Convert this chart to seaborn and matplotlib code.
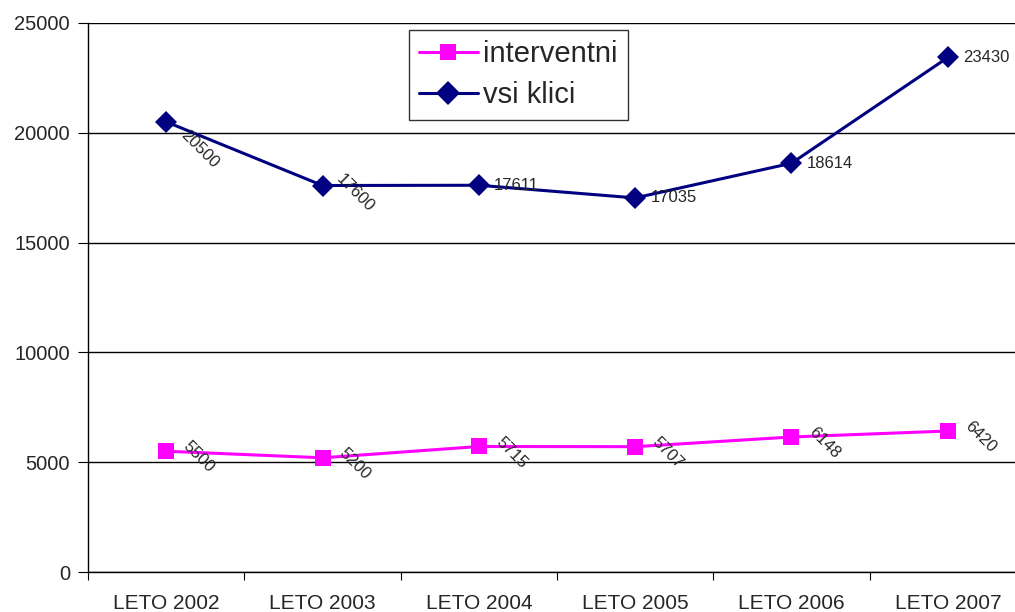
import matplotlib
matplotlib.use('Agg')
import matplotlib.pyplot as plt
import seaborn as sns
import pandas as pd

# ── data ──────────────────────────────────────────────────────────────────
YEARS        = ['LETO 2002', 'LETO 2003', 'LETO 2004', 'LETO 2005', 'LETO 2006', 'LETO 2007']
INTERVENTNI  = [5500, 5200, 5715, 5707, 6148, 6420]
VSI_KLICI    = [20500, 17600, 17611, 17035, 18614, 23430]
ROTATE_VSI   = [True, True, False, False, False, False]

df = pd.DataFrame({
    'leto': YEARS * 2,
    'klici': INTERVENTNI + VSI_KLICI,
    'serija': ['interventni'] * len(YEARS) + ['vsi klici'] * len(YEARS),
})

sns.set_style('white')
plt.rcParams['font.family'] = ['Liberation Sans', 'DejaVu Sans']

fig = plt.figure(figsize=(10.15, 6.12), dpi=100)
ax = fig.add_axes([88 / 1015, 1 - 572 / 612, 938 / 1015, 549 / 612])

sns.lineplot(
    data=df, x='leto', y='klici', hue='serija', style='serija',
    palette={'interventni': '#FF00FF', 'vsi klici': '#000080'},
    markers={'interventni': 's', 'vsi klici': 'D'},
    dashes=False, markersize=11, linewidth=2.2, markeredgewidth=0,
    ax=ax,
)

ax.set_xlim(-0.5, len(YEARS) - 0.5)
ax.set_ylim(0, 25000)
ax.set_yticks(range(0, 25001, 5000))
ax.yaxis.grid(True, color='black', linewidth=1)
ax.set_axisbelow(True)
ax.set_xlabel('')
ax.set_ylabel('')

ax.set_xticks([i + 0.5 for i in range(-1, len(YEARS))], minor=False)
ax.set_xticklabels([])
ax.set_xticks(range(len(YEARS)), minor=True)
ax.set_xticklabels(YEARS, minor=True, fontsize=15)
ax.tick_params(axis='x', which='major', length=6, color='black', direction='out', bottom=True)
ax.tick_params(axis='x', which='minor', length=0, pad=16)
ax.tick_params(axis='y', length=7, color='black', direction='out', left=True,
               labelsize=14.5, pad=6)

for side in ['top', 'right']:
    ax.spines[side].set_visible(False)
for side in ['left', 'bottom']:
    ax.spines[side].set_color('black')
    ax.spines[side].set_linewidth(1)

# data labels
for i, v in enumerate(INTERVENTNI):
    ax.annotate(str(v), (i, v), xytext=(14, 5), textcoords='offset points',
                rotation=-45, rotation_mode='anchor', ha='left', va='center', fontsize=12)
for i, (v, rot) in enumerate(zip(VSI_KLICI, ROTATE_VSI)):
    if rot:
        dy = -8 if i == 0 else 6
        ax.annotate(str(v), (i, v), xytext=(12, dy), textcoords='offset points',
                    rotation=-45, rotation_mode='anchor', ha='left', va='center', fontsize=12)
    else:
        ax.annotate(str(v), (i, v), xytext=(11, 0), textcoords='offset points',
                    ha='left', va='center', fontsize=12)

leg = ax.legend(loc='upper left', bbox_to_anchor=(409 / 1015, 1 - 30 / 612),
                bbox_transform=fig.transFigure, fontsize=21, frameon=True,
                fancybox=False, edgecolor='black', borderaxespad=0,
                handlelength=2.0, borderpad=0.35, labelspacing=0.45, handletextpad=0.2,
                markerscale=1.1)
leg.get_frame().set_linewidth(1)

fig.savefig('out.png', dpi=100)
